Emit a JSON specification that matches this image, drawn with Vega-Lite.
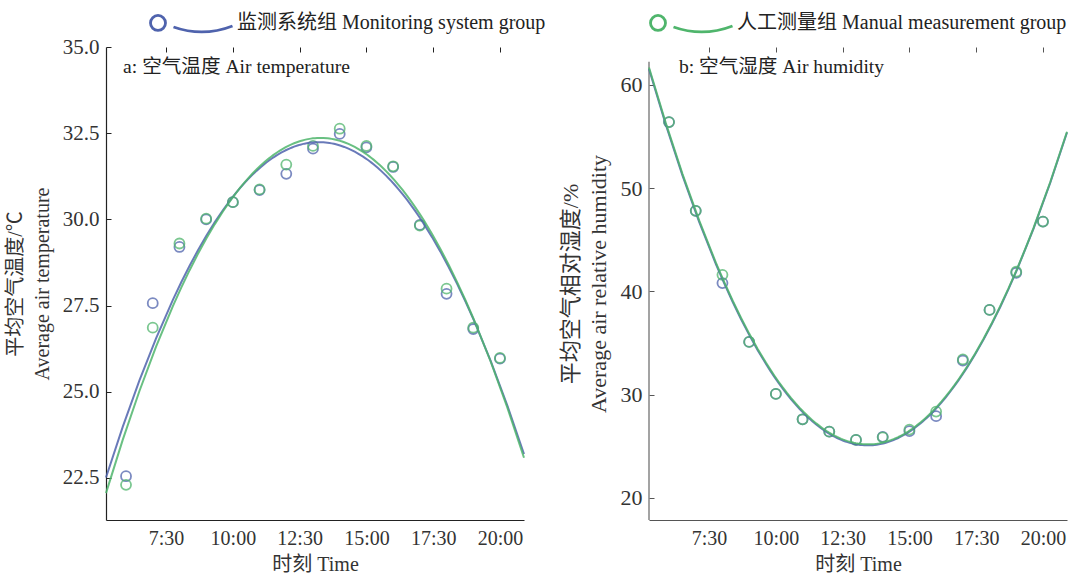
{
  "$schema": "https://vega.github.io/schema/vega-lite/v6.json",
  "background": "white",
  "padding": {"left": 5, "right": 5, "top": 11, "bottom": 3},
  "datasets": {
    "temp": [
      {"time": 6, "group": "监测系统组 Monitoring system group", "value": 22.55},
      {"time": 7, "group": "监测系统组 Monitoring system group", "value": 27.57},
      {"time": 8, "group": "监测系统组 Monitoring system group", "value": 29.2},
      {"time": 9, "group": "监测系统组 Monitoring system group", "value": 30.0},
      {"time": 10, "group": "监测系统组 Monitoring system group", "value": 30.5},
      {"time": 11, "group": "监测系统组 Monitoring system group", "value": 30.85},
      {"time": 12, "group": "监测系统组 Monitoring system group", "value": 31.32},
      {"time": 13, "group": "监测系统组 Monitoring system group", "value": 32.05},
      {"time": 14, "group": "监测系统组 Monitoring system group", "value": 32.48},
      {"time": 15, "group": "监测系统组 Monitoring system group", "value": 32.09},
      {"time": 16, "group": "监测系统组 Monitoring system group", "value": 31.52},
      {"time": 17, "group": "监测系统组 Monitoring system group", "value": 29.84},
      {"time": 18, "group": "监测系统组 Monitoring system group", "value": 27.84},
      {"time": 19, "group": "监测系统组 Monitoring system group", "value": 26.82},
      {"time": 20, "group": "监测系统组 Monitoring system group", "value": 25.96},
      {"time": 6, "group": "人工测量组 Manual measurement group", "value": 22.3},
      {"time": 7, "group": "人工测量组 Manual measurement group", "value": 26.86},
      {"time": 8, "group": "人工测量组 Manual measurement group", "value": 29.3},
      {"time": 9, "group": "人工测量组 Manual measurement group", "value": 30.02},
      {"time": 10, "group": "人工测量组 Manual measurement group", "value": 30.5},
      {"time": 11, "group": "人工测量组 Manual measurement group", "value": 30.87},
      {"time": 12, "group": "人工测量组 Manual measurement group", "value": 31.59},
      {"time": 13, "group": "人工测量组 Manual measurement group", "value": 32.13},
      {"time": 14, "group": "人工测量组 Manual measurement group", "value": 32.63},
      {"time": 15, "group": "人工测量组 Manual measurement group", "value": 32.13},
      {"time": 16, "group": "人工测量组 Manual measurement group", "value": 31.54},
      {"time": 17, "group": "人工测量组 Manual measurement group", "value": 29.82},
      {"time": 18, "group": "人工测量组 Manual measurement group", "value": 27.99},
      {"time": 19, "group": "人工测量组 Manual measurement group", "value": 26.86},
      {"time": 20, "group": "人工测量组 Manual measurement group", "value": 25.98}
    ],
    "hum": [
      {"time": 6, "group": "监测系统组 Monitoring system group", "value": 56.4},
      {"time": 7, "group": "监测系统组 Monitoring system group", "value": 47.8},
      {"time": 8, "group": "监测系统组 Monitoring system group", "value": 40.8},
      {"time": 9, "group": "监测系统组 Monitoring system group", "value": 35.1},
      {"time": 10, "group": "监测系统组 Monitoring system group", "value": 30.06},
      {"time": 11, "group": "监测系统组 Monitoring system group", "value": 27.6},
      {"time": 12, "group": "监测系统组 Monitoring system group", "value": 26.4},
      {"time": 13, "group": "监测系统组 Monitoring system group", "value": 25.6},
      {"time": 14, "group": "监测系统组 Monitoring system group", "value": 25.9},
      {"time": 15, "group": "监测系统组 Monitoring system group", "value": 26.45},
      {"time": 16, "group": "监测系统组 Monitoring system group", "value": 27.9},
      {"time": 17, "group": "监测系统组 Monitoring system group", "value": 33.3},
      {"time": 18, "group": "监测系统组 Monitoring system group", "value": 38.2},
      {"time": 19, "group": "监测系统组 Monitoring system group", "value": 41.8},
      {"time": 20, "group": "监测系统组 Monitoring system group", "value": 46.76},
      {"time": 6, "group": "人工测量组 Manual measurement group", "value": 56.4},
      {"time": 7, "group": "人工测量组 Manual measurement group", "value": 47.8},
      {"time": 8, "group": "人工测量组 Manual measurement group", "value": 41.6},
      {"time": 9, "group": "人工测量组 Manual measurement group", "value": 35.1},
      {"time": 10, "group": "人工测量组 Manual measurement group", "value": 30.06},
      {"time": 11, "group": "人工测量组 Manual measurement group", "value": 27.6},
      {"time": 12, "group": "人工测量组 Manual measurement group", "value": 26.4},
      {"time": 13, "group": "人工测量组 Manual measurement group", "value": 25.6},
      {"time": 14, "group": "人工测量组 Manual measurement group", "value": 25.85},
      {"time": 15, "group": "人工测量组 Manual measurement group", "value": 26.6},
      {"time": 16, "group": "人工测量组 Manual measurement group", "value": 28.35},
      {"time": 17, "group": "人工测量组 Manual measurement group", "value": 33.4},
      {"time": 18, "group": "人工测量组 Manual measurement group", "value": 38.2},
      {"time": 19, "group": "人工测量组 Manual measurement group", "value": 41.9},
      {"time": 20, "group": "人工测量组 Manual measurement group", "value": 46.76}
    ]
  },
  "config": {
    "font": "Liberation Serif, Noto Sans CJK SC",
    "view": {"stroke": null},
    "axis": {
      "grid": true,
      "gridDash": [5, 3000],
      "gridColor": "#222",
      "gridWidth": 1,
      "ticks": false,
      "domainColor": "#222",
      "labelColor": "#333",
      "titleColor": "#333",
      "labelFont": "Liberation Serif, Noto Sans CJK SC",
      "titleFont": "Liberation Serif, Noto Sans CJK SC",
      "labelFontSize": 20,
      "titleFontSize": 20,
      "titleFontWeight": "normal",
      "labelPadding": 8,
      "domainWidth": 1.2
    },
    "legend": {
      "labelFont": "Liberation Serif, Noto Sans CJK SC"
    }
  },
  "bounds": "flush",
  "spacing": 125,
  "hconcat": [
    {
      "width": 418,
      "height": 473,
      "layer": [
        {
          "data": {"name": "temp"},
          "mark": {"type": "point", "shape": "circle", "filled": false, "size": 100, "strokeWidth": 1.8, "opacity": 0.75},
          "encoding": {
            "x": {
              "field": "time", "type": "quantitative",
              "scale": {"domain": [5.25, 20.9], "nice": false, "zero": false},
              "axis": {"title": "时刻 Time", "values": [7.5, 10, 12.5, 15, 17.5, 20], "labelExpr": "floor(datum.value) + ':' + (datum.value % 1 == 0 ? '00' : '30')", "titlePadding": 6}
            },
            "y": {
              "field": "value", "type": "quantitative",
              "scale": {"domain": [21.28, 35], "nice": false, "zero": false},
              "axis": {"title": ["平均空气温度/℃", "Average air temperature"], "values": [22.5, 25, 27.5, 30, 32.5, 35], "format": ".1f", "titleLineHeight": 27, "titlePadding": 10, "labelPadding": 7, "labelFontSize": 21}
            },
            "color": {
              "field": "group", "type": "nominal",
              "scale": {"domain": ["监测系统组 Monitoring system group", "人工测量组 Manual measurement group"], "range": ["#4f63ad", "#4fb56c"]},
              "legend": {"title": null, "orient": "none", "legendX": 43, "legendY": -36, "direction": "horizontal", "columnPadding": 98, "symbolType": "M-4.1,0A0.75,0.75,0,1,0,-2.6,0A0.75,0.75,0,1,0,-4.1,0ZM-1.8,0.4Q1.15,1.45,4.1,0.3", "symbolSize": 400, "symbolOffset": 31, "labelOffset": 34, "symbolStrokeWidth": 2.8, "symbolOpacity": 1, "labelFontSize": 20, "labelColor": "#222", "labelLimit": 0}
            }
          }
        },
        {
          "data": {"name": "temp"},
          "transform": [{"regression": "value", "on": "time", "groupby": ["group"], "method": "poly", "order": 2, "extent": [5.25, 20.9]}],
          "mark": {"type": "line", "strokeWidth": 2, "opacity": 0.85},
          "encoding": {
            "x": {"field": "time", "type": "quantitative"},
            "y": {"field": "value", "type": "quantitative"},
            "color": {"field": "group", "type": "nominal"}
          }
        },
        {
          "data": {"values": [{"label": "a: 空气温度 Air temperature"}]},
          "mark": {"type": "text", "align": "left", "baseline": "middle", "fontSize": 19.6, "color": "#222"},
          "encoding": {
            "x": {"datum": 5.89, "type": "quantitative"},
            "y": {"datum": 34.42, "type": "quantitative"},
            "text": {"field": "label", "type": "nominal"}
          }
        }
      ]
    },
    {
      "width": 418,
      "height": 473,
      "layer": [
        {
          "data": {"values": [{"axisline": 1}]},
          "mark": {"type": "rule", "color": "#666", "strokeWidth": 1.2},
          "encoding": {
            "x": {"datum": 5.25, "type": "quantitative"},
            "y": {"datum": 17.84, "type": "quantitative"},
            "y2": {"datum": 62.26}
          }
        },
        {
          "data": {"name": "hum"},
          "mark": {"type": "point", "shape": "circle", "filled": false, "size": 100, "strokeWidth": 1.8, "opacity": 0.75},
          "encoding": {
            "x": {
              "field": "time", "type": "quantitative",
              "scale": {"domain": [5.25, 20.9], "nice": false, "zero": false},
              "axis": {"title": "时刻 Time", "values": [7.5, 10, 12.5, 15, 17.5, 20], "labelExpr": "floor(datum.value) + ':' + (datum.value % 1 == 0 ? '00' : '30')", "titlePadding": 6, "domainColor": "#555", "gridColor": "#555"}
            },
            "y": {
              "field": "value", "type": "quantitative",
              "scale": {"domain": [17.84, 63.68], "nice": false, "zero": false},
              "axis": {"title": ["平均空气相对湿度/%", "Average air relative humidity"], "values": [20, 30, 40, 50, 60], "titleFontSize": 22, "titleLineHeight": 28, "titlePadding": 10, "labelPadding": 7, "labelFontSize": 22, "domain": false, "gridColor": "#555"}
            },
            "color": {
              "field": "group", "type": "nominal",
              "scale": {"domain": ["监测系统组 Monitoring system group", "人工测量组 Manual measurement group"], "range": ["#4f63ad", "#4fb56c"]},
              "legend": {"title": null, "orient": "none", "legendX": 43, "legendY": -36, "direction": "horizontal", "columnPadding": 98, "symbolType": "M-4.1,0A0.75,0.75,0,1,0,-2.6,0A0.75,0.75,0,1,0,-4.1,0ZM-1.8,0.4Q1.15,1.45,4.1,0.3", "symbolSize": 400, "symbolOffset": 31, "labelOffset": 34, "symbolStrokeWidth": 2.8, "symbolOpacity": 1, "labelFontSize": 20, "labelColor": "#222", "labelLimit": 0}
            }
          }
        },
        {
          "data": {"name": "hum"},
          "transform": [{"regression": "value", "on": "time", "groupby": ["group"], "method": "poly", "order": 2, "extent": [5.25, 20.9]}],
          "mark": {"type": "line", "strokeWidth": 2, "opacity": 0.85},
          "encoding": {
            "x": {"field": "time", "type": "quantitative"},
            "y": {"field": "value", "type": "quantitative"},
            "color": {"field": "group", "type": "nominal"}
          }
        },
        {
          "data": {"values": [{"label": "b: 空气湿度 Air humidity"}]},
          "mark": {"type": "text", "align": "left", "baseline": "middle", "fontSize": 19.6, "color": "#222"},
          "encoding": {
            "x": {"datum": 6.37, "type": "quantitative"},
            "y": {"datum": 61.74, "type": "quantitative"},
            "text": {"field": "label", "type": "nominal"}
          }
        }
      ]
    }
  ]
}
